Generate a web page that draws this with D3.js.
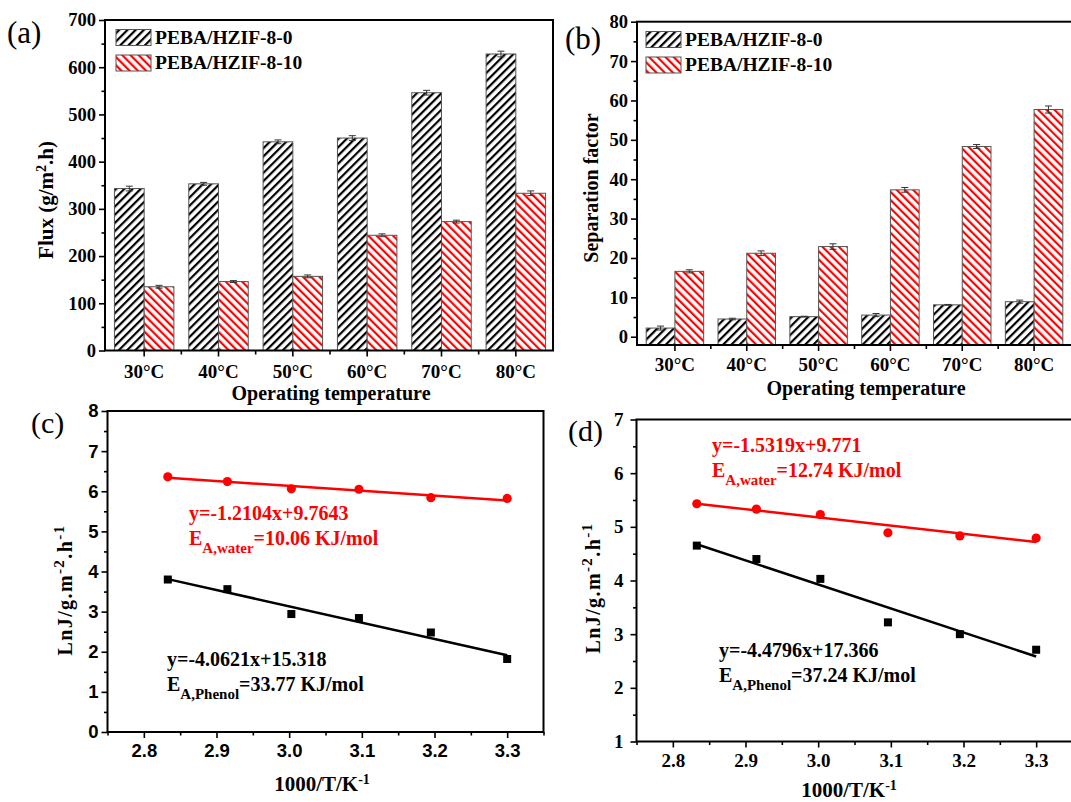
<!DOCTYPE html>
<html><head><meta charset="utf-8">
<script src="https://cdn.jsdelivr.net/npm/d3@7"></script>
<style>body{margin:0;background:#fff}</style>
</head><body>
<svg id="c" width="1071" height="802"></svg>
<script>
// ---------- data ----------
const categories = ["30°C","40°C","50°C","60°C","70°C","80°C"];
const seriesNames = ["PEBA/HZIF-8-0","PEBA/HZIF-8-10"];
const fluxHZIF0 = [343,353,442,450,546,628];
const fluxHZIF0Err = [5,3,4,5,5,6];
const fluxHZIF10 = [135,146,157,244,273,333];
const fluxHZIF10Err = [3,2,3,3,3,5];
const fluxTicks = [0,100,200,300,400,500,600,700];
const sepHZIF0 = [2.2,4.5,5.1,5.5,8.1,8.9];
const sepHZIF0Err = [0.5,0.2,0.1,0.4,0.1,0.4];
const sepHZIF10 = [16.6,21.2,22.9,37.3,48.3,57.7];
const sepHZIF10Err = [0.4,0.6,0.7,0.6,0.5,0.9];
const sepTicks = [0,10,20,30,40,50,60,70,80];
const invT = [2.833,2.915,3.003,3.096,3.195,3.300];
const invTTicks = [2.8,2.9,3.0,3.1,3.2,3.3];
const lnJcWater = [6.36,6.24,6.06,6.05,5.84,5.82];
const lnJcPhenol = [3.80,3.56,2.94,2.84,2.48,1.82];
const lnJdWater = [5.43,5.33,5.23,4.89,4.83,4.79];
const lnJdPhenol = [4.65,4.40,4.03,3.22,3.00,2.71];
const fitCWater = [-1.2104, 9.7643];
const fitCPhenol = [-4.0621, 15.318];
const fitDWater = [-1.5319, 9.771];
const fitDPhenol = [-4.4796, 17.366];
const cTicks = [0,1,2,3,4,5,6,7,8];
const dTicks = [1,2,3,4,5,6,7];

const SERIF = "'Liberation Serif','Times New Roman',serif";
const SANS = "'Liberation Sans',Arial,sans-serif";
const RED = "#ff0000";

const svg = d3.select("#c");
const defs = svg.append("defs");
function hatch(id, color, angle){
  const s = 5.8;
  const p = defs.append("pattern").attr("id",id).attr("patternUnits","userSpaceOnUse")
    .attr("width",s).attr("height",s).attr("patternTransform",`rotate(${angle})`);
  p.append("rect").attr("width",s).attr("height",s).attr("fill","#fff");
  p.append("rect").attr("x",0).attr("y",0).attr("width",2.2).attr("height",s).attr("fill",color);
}
hatch("hBlack","#000",45);
hatch("hRed",RED,-45);

function styleAxis(sel, font, size){
  sel.select(".domain").remove();
  sel.selectAll("line").attr("stroke","#000").attr("stroke-width",1.6);
  sel.selectAll("text").attr("font-family",font).attr("font-weight","bold").attr("font-size",size).attr("fill","#000");
}

function frame(o){
  svg.append("rect").attr("x",o.l).attr("y",o.t).attr("width",o.r-o.l).attr("height",o.b-o.t)
    .attr("fill","none").attr("stroke","#000").attr("stroke-width",2);
}

// ---------- bar panel ----------
function barPanel(o){
  const g = svg.append("g");
  const x = d3.scaleBand().domain(categories).range(o.band);
  const y = d3.scaleLinear().domain(o.yDomain).range([o.b,o.t]);
  const step = x.step(), bw = step*0.4;
  const rows = categories.map((c,i)=>({c, v0:o.s0[i], e0:o.e0[i], v1:o.s1[i], e1:o.e1[i]}));
  const cx = d => x(d.c)+step/2;
  g.selectAll(".b0").data(rows).join("rect").attr("class","b0")
    .attr("x",d=>cx(d)-bw).attr("y",d=>y(d.v0)).attr("width",bw).attr("height",d=>o.b-y(d.v0))
    .attr("fill","url(#hBlack)").attr("stroke","#555").attr("stroke-width",1);
  g.selectAll(".b1").data(rows).join("rect").attr("class","b1")
    .attr("x",d=>cx(d)).attr("y",d=>y(d.v1)).attr("width",bw).attr("height",d=>o.b-y(d.v1))
    .attr("fill","url(#hRed)").attr("stroke","#555").attr("stroke-width",1);
  // error bars
  const eb = [];
  rows.forEach(d=>{ eb.push({x:cx(d)-bw/2, v:d.v0, e:d.e0}); eb.push({x:cx(d)+bw/2, v:d.v1, e:d.e1}); });
  const eg = g.selectAll(".eb").data(eb).join("g").attr("class","eb").attr("stroke","#333").attr("stroke-width",1);
  eg.append("line").attr("x1",d=>d.x).attr("x2",d=>d.x).attr("y1",d=>y(d.v-d.e)).attr("y2",d=>y(d.v+d.e));
  eg.append("line").attr("x1",d=>d.x-3.5).attr("x2",d=>d.x+3.5).attr("y1",d=>y(d.v-d.e)).attr("y2",d=>y(d.v-d.e));
  eg.append("line").attr("x1",d=>d.x-3.5).attr("x2",d=>d.x+3.5).attr("y1",d=>y(d.v+d.e)).attr("y2",d=>y(d.v+d.e));
  frame(o);
  // y axis
  const ya = svg.append("g").attr("transform",`translate(${o.l},0)`)
    .call(d3.axisLeft(y).tickValues(o.ticks).tickSize(6).tickPadding(3).tickFormat(d3.format("d")));
  styleAxis(ya, SERIF, 18.5);
  const minors = o.ticks.slice(0,-1).map((t,i)=>(t+o.ticks[i+1])/2);
  const ym = svg.append("g").attr("transform",`translate(${o.l},0)`)
    .call(d3.axisLeft(y).tickValues(minors).tickSize(3.5).tickFormat(""));
  styleAxis(ym, SERIF, 18);
  // x axis
  const xa = svg.append("g").attr("transform",`translate(0,${o.b})`)
    .call(d3.axisBottom(x).tickSize(6).tickPadding(o.xPad));
  styleAxis(xa, SERIF, 19);
  const bounds = categories.slice(1).map(c=>x(c));
  svg.append("g").selectAll("line").data(bounds).join("line")
    .attr("x1",d=>d).attr("x2",d=>d).attr("y1",o.b).attr("y2",o.b+4)
    .attr("stroke","#000").attr("stroke-width",1.6);
  // legend
  const lg = svg.append("g");
  [["url(#hBlack)",0],["url(#hRed)",1]].forEach(([f,i])=>{
    lg.append("rect").attr("x",o.legX).attr("y",o.legY+i*25.5).attr("width",35).attr("height",16)
      .attr("fill",f).attr("stroke","#555").attr("stroke-width",1);
    lg.append("text").attr("x",o.legX+39).attr("y",o.legY+i*25.5+14)
      .attr("font-family",SERIF).attr("font-weight","bold").attr("font-size",19.5).text(seriesNames[i]);
  });
  // titles
  svg.append("text").attr("x",o.xtX).attr("y",o.xtY).attr("text-anchor","middle")
    .attr("font-family",SERIF).attr("font-weight","bold").attr("font-size",20).text("Operating temperature");
  const yt = svg.append("text").attr("transform",`translate(${o.ytX},${o.ytY}) rotate(-90)`).attr("text-anchor","middle")
    .attr("font-family",SERIF).attr("font-weight","bold").attr("font-size",o.ytSize);
  o.ytitle(yt);
  svg.append("text").attr("x",o.letX).attr("y",o.letY).attr("font-family",SERIF).attr("font-size",31).text(o.letter);
}

barPanel({l:105,r:553,t:20,b:350.5,band:[107,553],yDomain:[0,700],ticks:fluxTicks,
  s0:fluxHZIF0,e0:fluxHZIF0Err,s1:fluxHZIF10,e1:fluxHZIF10Err,xPad:8,
  legX:116,legY:29.5,xtX:331,xtY:400,ytX:53,ytY:200,ytSize:21,letX:7,letY:43,letter:"(a)",
  ytitle:t=>{ t.append("tspan").text("Flux (g/m");
    t.append("tspan").attr("baseline-shift","super").attr("font-size",14).text("2");
    t.append("tspan").text(".h)"); }});

barPanel({l:637,r:1076,t:21.7,b:345,band:[639,1070],yDomain:[-2.1,80],ticks:sepTicks,
  s0:sepHZIF0,e0:sepHZIF0Err,s1:sepHZIF10,e1:sepHZIF10Err,xPad:6.5,
  legX:646,legY:31.5,xtX:866,xtY:395,ytX:598,ytY:188,ytSize:20,letX:565,letY:49,letter:"(b)",
  ytitle:t=>t.text("Separation factor")});

// ---------- line panels ----------
function linePanel(o){
  const x = d3.scaleLinear().domain([2.75,3.35]).range([o.l,o.r]);
  const y = d3.scaleLinear().domain(o.yDomain).range([o.b,o.t]);
  frame(o);
  const ya = svg.append("g").attr("transform",`translate(${o.l},0)`)
    .call(d3.axisLeft(y).tickValues(o.ticks).tickSize(6).tickPadding(o.yPad).tickFormat(d3.format("d")));
  styleAxis(ya, o.font, o.fs);
  const ym = svg.append("g").attr("transform",`translate(${o.l},0)`)
    .call(d3.axisLeft(y).tickValues(o.ticks.slice(0,-1).map(t=>t+0.5)).tickSize(3.5).tickFormat(""));
  styleAxis(ym, o.font, o.fs);
  const xa = svg.append("g").attr("transform",`translate(0,${o.b})`)
    .call(d3.axisBottom(x).tickValues(invTTicks).tickSize(6).tickPadding(o.xPad).tickFormat(d3.format(".1f")));
  styleAxis(xa, o.font, o.fs);
  const xm = svg.append("g").attr("transform",`translate(0,${o.b})`)
    .call(d3.axisBottom(x).tickValues([2.75,2.85,2.95,3.05,3.15,3.25,3.35]).tickSize(3.5).tickFormat(""));
  styleAxis(xm, o.font, o.fs);
  // fit lines
  const xs = [invT[0], invT[invT.length-1]];
  [[o.fitW,RED],[o.fitP,"#000"]].forEach(([f,c])=>{
    svg.append("line").attr("x1",x(xs[0])).attr("y1",y(f[0]*xs[0]+f[1]))
      .attr("x2",x(xs[1])).attr("y2",y(f[0]*xs[1]+f[1])).attr("stroke",c).attr("stroke-width",2.5);
  });
  const pw = invT.map((v,i)=>({x:v,y:o.water[i]}));
  const pp = invT.map((v,i)=>({x:v,y:o.phenol[i]}));
  svg.append("g").selectAll("circle").data(pw).join("circle")
    .attr("cx",d=>x(d.x)).attr("cy",d=>y(d.y)).attr("r",4.6).attr("fill",RED);
  svg.append("g").selectAll("rect").data(pp).join("rect")
    .attr("x",d=>x(d.x)-4).attr("y",d=>y(d.y)-4).attr("width",8).attr("height",8).attr("fill","#000");
  // annotations
  function eq(xp, yp, color, line1, sub, rest){
    svg.append("text").attr("x",xp).attr("y",yp).attr("fill",color).attr("font-family",SERIF)
      .attr("font-weight","bold").attr("font-size",20).text(line1);
    const t = svg.append("text").attr("x",xp).attr("y",yp+25).attr("fill",color).attr("font-family",SERIF)
      .attr("font-weight","bold").attr("font-size",20);
    t.append("tspan").text("E");
    t.append("tspan").attr("baseline-shift","sub").attr("font-size",15).text(sub);
    t.append("tspan").text(rest);
  }
  eq(o.wX,o.wY,RED,o.wEq,"A,water",o.wE);
  eq(o.pX,o.pY,"#000",o.pEq,"A,Phenol",o.pE);
  // titles
  const xt = svg.append("text").attr("x",o.xtX).attr("y",o.xtY).attr("text-anchor","middle")
    .attr("font-family",SERIF).attr("font-weight","bold").attr("font-size",21);
  xt.append("tspan").text("1000/T/K");
  xt.append("tspan").attr("baseline-shift","super").attr("font-size",14).text("-1");
  const yt = svg.append("text").attr("transform",`translate(${o.ytX},${o.ytY}) rotate(-90)`).attr("text-anchor","middle")
    .attr("font-family",SERIF).attr("font-weight","bold").attr("font-size",20).attr("letter-spacing",1.4);
  yt.append("tspan").text("LnJ/g.m");
  yt.append("tspan").attr("baseline-shift","super").attr("font-size",15).text("-2");
  yt.append("tspan").text(".h");
  yt.append("tspan").attr("baseline-shift","super").attr("font-size",15).text("-1");
  svg.append("text").attr("x",o.letX).attr("y",o.letY).attr("font-family",SERIF).attr("font-size",30).text(o.letter);
}

linePanel({l:107.5,r:543.5,t:411,b:732,yDomain:[0,8],ticks:cTicks,font:SANS,fs:18.5,yPad:3,xPad:6,
  water:lnJcWater,phenol:lnJcPhenol,fitW:fitCWater,fitP:fitCPhenol,
  wX:189,wY:520,wEq:"y=-1.2104x+9.7643",wE:"=10.06 KJ/mol",
  pX:167,pY:666,pEq:"y=-4.0621x+15.318",pE:"=33.77 KJ/mol",
  xtX:322,xtY:791,ytX:72,ytY:590,letX:31,letY:433,letter:"(c)"});

linePanel({l:636.5,r:1072.5,t:419.5,b:741.5,yDomain:[1,7],ticks:dTicks,font:SERIF,fs:19,yPad:7,xPad:6,
  water:lnJdWater,phenol:lnJdPhenol,fitW:fitDWater,fitP:fitDPhenol,
  wX:712,wY:452,wEq:"y=-1.5319x+9.771",wE:"=12.74 KJ/mol",
  pX:719,pY:657,pEq:"y=-4.4796x+17.366",pE:"=37.24 KJ/mol",
  xtX:849,xtY:797,ytX:600,ytY:588,letX:568,letY:441,letter:"(d)"});
</script>
</body></html>
